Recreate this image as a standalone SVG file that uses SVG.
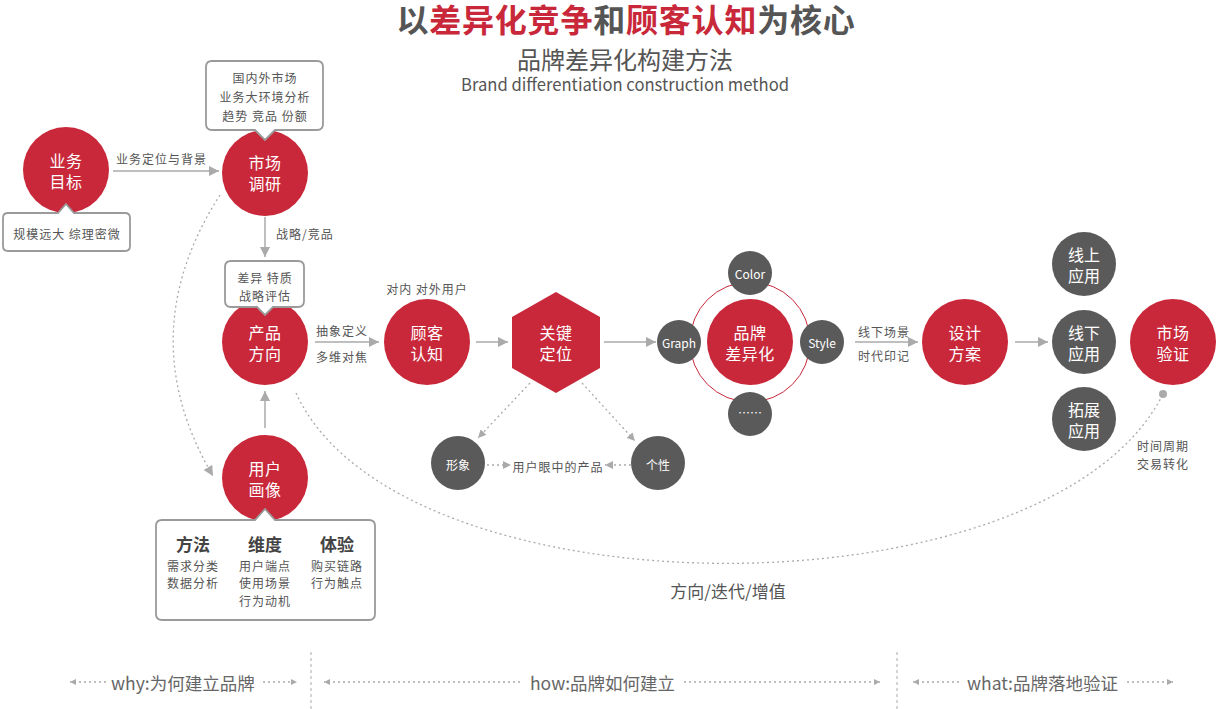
<svg xmlns="http://www.w3.org/2000/svg" width="1217" height="709" viewBox="0 0 1217 709">
<style>
text{font-family:"Noto Sans CJK SC","Noto Sans",sans-serif;}
.red{fill:#c8283a;}
.dark{fill:#5b5a5a;}
.nl{fill:#fff;font-size:16px;letter-spacing:0.5px;text-anchor:middle;dominant-baseline:central;}
.sl{fill:#fff;font-size:12px;text-anchor:middle;dominant-baseline:central;}
.ml{fill:#fff;font-size:16px;text-anchor:middle;dominant-baseline:central;}
.t{fill:#555;font-size:12px;letter-spacing:1px;dominant-baseline:central;}
.tc{fill:#555;font-size:12px;letter-spacing:1px;text-anchor:middle;dominant-baseline:central;}
.box{fill:#fff;stroke:#9a9a9a;stroke-width:1.8;}
.ln{stroke:#aaa;stroke-width:1.5;fill:none;}
.dl{stroke:#aaa;stroke-width:1.3;fill:none;stroke-dasharray:2 3;}
.hd{fill:#444;font-size:17px;font-weight:bold;text-anchor:middle;dominant-baseline:central;}
.bt{fill:#666;font-size:17.5px;dominant-baseline:central;}
</style>
<defs>
<marker id="arr" viewBox="0 0 10 10" refX="10" refY="5" markerWidth="10" markerHeight="10" markerUnits="userSpaceOnUse" orient="auto"><path d="M0,0 L10,5 L0,10 Z" fill="#aaa"/></marker>
<marker id="arrs" viewBox="0 0 10 10" refX="10" refY="5" markerWidth="8" markerHeight="8" markerUnits="userSpaceOnUse" orient="auto"><path d="M0,0 L10,5 L0,10 Z" fill="#aaa"/></marker>
<marker id="arrt" viewBox="0 0 10 10" refX="10" refY="5" markerWidth="6" markerHeight="6" markerUnits="userSpaceOnUse" orient="auto"><path d="M0,0 L10,5 L0,10 Z" fill="#aaa"/></marker>
</defs>

<g id="title">
<text x="626" y="18" font-size="32" font-weight="bold" letter-spacing="0.8" text-anchor="middle" dominant-baseline="central" fill="#555">以<tspan fill="#c8283a">差异化竞争</tspan>和<tspan fill="#c8283a">顾客认知</tspan>为核心</text>
<text x="625" y="58" font-size="24" text-anchor="middle" dominant-baseline="central" fill="#555">品牌差异化构建方法</text>
<text x="625" y="83" font-size="17" text-anchor="middle" dominant-baseline="central" fill="#555" textLength="328" lengthAdjust="spacingAndGlyphs">Brand differentiation construction method</text>
</g>

<g id="connectors">
<line class="ln" x1="113" y1="171" x2="219" y2="171" marker-end="url(#arr)"/>
<line class="ln" x1="265" y1="217" x2="265" y2="257" marker-end="url(#arr)"/>
<line class="ln" x1="265" y1="428" x2="265" y2="391" marker-end="url(#arr)"/>
<line class="ln" x1="315" y1="342" x2="379" y2="342" marker-end="url(#arr)"/>
<line class="ln" x1="476" y1="342" x2="508" y2="342" marker-end="url(#arr)"/>
<line class="ln" x1="604" y1="342" x2="656" y2="342" marker-end="url(#arr)"/>
<line class="ln" x1="855" y1="342" x2="918" y2="342" marker-end="url(#arr)"/>
<line class="ln" x1="1015" y1="342" x2="1048" y2="342" marker-end="url(#arr)"/>
<path class="dl" d="M530,383 L478,438" marker-end="url(#arrs)"/>
<path class="dl" d="M582,383 L635,441" marker-end="url(#arrs)"/>
<path class="dl" d="M487,465 L511,465" marker-end="url(#arrs)"/>
<path class="dl" d="M631,465 L605,465" marker-end="url(#arrs)"/>
<path class="dl" d="M220,195 Q130,335 213,476" marker-end="url(#arr)"/>
<path class="dl" d="M296,393 C400,620 1050,620 1163,394"/>
<circle cx="1163" cy="394" r="4" fill="#aaa"/>
<text class="t" x="116" y="158">业务定位与背景</text>
<text class="t" x="276" y="233">战略/竞品</text>
<text class="t" x="316" y="330">抽象定义</text>
<text class="t" x="316" y="356">多维对焦</text>
<text class="tc" x="427" y="288">对内 对外用户</text>
<text class="tc" x="558" y="466">用户眼中的产品</text>
<text class="t" x="858" y="331">线下场景</text>
<text class="t" x="858" y="355">时代印记</text>
<text class="t" x="1137" y="445">时间周期</text>
<text class="t" x="1137" y="463">交易转化</text>
<text x="728" y="590" font-size="17" fill="#555" text-anchor="middle" dominant-baseline="central">方向/迭代/增值</text>
</g>

<g id="n-yewumubiao">
<circle class="red" cx="66" cy="170" r="43"/>
<text class="nl" x="66" y="160">业务</text>
<text class="nl" x="66" y="181">目标</text>
<path class="box" d="M8,213 H58 L66,204 L74,213 H125 Q130,213 130,218 V246 Q130,251 125,251 H8 Q3,251 3,246 V218 Q3,213 8,213 Z"/>
<text class="tc" x="67" y="233">规模远大 综理密微</text>
</g>

<g id="n-shichangdiaoyan">
<circle class="red" cx="265" cy="173" r="43"/>
<text class="nl" x="265" y="162">市场</text>
<text class="nl" x="265" y="183">调研</text>
<path class="box" d="M212,61 H317 Q323,61 323,67 V124 Q323,130 317,130 H275 L265,140 L255,130 H212 Q206,130 206,124 V67 Q206,61 212,61 Z"/>
<text class="tc" x="265" y="77">国内外市场</text>
<text class="tc" x="265" y="96">业务大环境分析</text>
<text class="tc" x="265" y="115">趋势 竞品 份额</text>
</g>

<g id="n-chanpinfangxiang">
<circle class="red" cx="265" cy="342" r="43"/>
<text class="nl" x="265" y="332">产品</text>
<text class="nl" x="265" y="353">方向</text>
<path class="box" d="M231,261 H298 Q304,261 304,267 V301 Q304,307 298,307 H273 L265,315 L257,307 H231 Q225,307 225,301 V267 Q225,261 231,261 Z"/>
<text class="tc" x="265" y="277">差异 特质</text>
<text class="tc" x="265" y="295">战略评估</text>
</g>

<g id="n-yonghuhuaxiang">
<circle class="red" cx="265" cy="478" r="43"/>
<text class="nl" x="265" y="468">用户</text>
<text class="nl" x="265" y="489">画像</text>
<path class="box" d="M162,520 H255 L265,509 L275,520 H369 Q375,520 375,526 V614 Q375,620 369,620 H162 Q156,620 156,614 V526 Q156,520 162,520 Z"/>
<text class="hd" x="193" y="543">方法</text>
<text class="tc" x="193" y="565">需求分类</text>
<text class="tc" x="193" y="582">数据分析</text>
<text class="hd" x="265" y="543">维度</text>
<text class="tc" x="265" y="565">用户端点</text>
<text class="tc" x="265" y="582">使用场景</text>
<text class="tc" x="265" y="600">行为动机</text>
<text class="hd" x="337" y="543">体验</text>
<text class="tc" x="337" y="565">购买链路</text>
<text class="tc" x="337" y="582">行为触点</text>
</g>

<g id="n-gukerenzhi">
<circle class="red" cx="427" cy="342" r="43"/>
<text class="nl" x="427" y="332">顾客</text>
<text class="nl" x="427" y="353">认知</text>
</g>

<g id="n-guanjiandingwei">
<polygon class="red" points="556,292 600,317 600,368 556,393 512,368 512,317"/>
<text class="nl" x="556" y="332">关键</text>
<text class="nl" x="556" y="353">定位</text>
</g>

<g id="n-xingxiang">
<circle class="dark" cx="458" cy="463" r="27"/>
<text class="sl" x="458" y="464" font-size="13">形象</text>
</g>
<g id="n-gexing">
<circle class="dark" cx="658" cy="463" r="27"/>
<text class="sl" x="658" y="464" font-size="13">个性</text>
</g>

<g id="n-pinpaichayihua">
<circle cx="750" cy="342" r="60" fill="none" stroke="#c8283a" stroke-width="1"/>
<circle class="red" cx="750" cy="342" r="43"/>
<text class="nl" x="750" y="332">品牌</text>
<text class="nl" x="750" y="353">差异化</text>
</g>
<g id="n-color">
<circle class="dark" cx="750" cy="273" r="22"/>
<text class="sl" x="750" y="273">Color</text>
</g>
<g id="n-graph">
<circle class="dark" cx="679" cy="342" r="22"/>
<text class="sl" x="679" y="342">Graph</text>
</g>
<g id="n-style">
<circle class="dark" cx="822" cy="342" r="22"/>
<text class="sl" x="822" y="342">Style</text>
</g>
<g id="n-more">
<circle class="dark" cx="750" cy="414" r="22"/>
<text class="sl" x="750" y="412">……</text>
</g>

<g id="n-shejifangan">
<circle class="red" cx="965" cy="342" r="43"/>
<text class="nl" x="965" y="332">设计</text>
<text class="nl" x="965" y="353">方案</text>
</g>

<g id="n-xianshang">
<circle class="dark" cx="1084" cy="264" r="32"/>
<text class="ml" x="1084" y="254">线上</text>
<text class="ml" x="1084" y="275">应用</text>
</g>
<g id="n-xianxia">
<circle class="dark" cx="1084" cy="342" r="32"/>
<text class="ml" x="1084" y="332">线下</text>
<text class="ml" x="1084" y="353">应用</text>
</g>
<g id="n-tuozhan">
<circle class="dark" cx="1084" cy="419" r="32"/>
<text class="ml" x="1084" y="409">拓展</text>
<text class="ml" x="1084" y="430">应用</text>
</g>

<g id="n-shichangyanzheng">
<circle class="red" cx="1173" cy="342" r="43"/>
<text class="nl" x="1173" y="332">市场</text>
<text class="nl" x="1173" y="353">验证</text>
</g>

<g id="footer">
<line x1="311" y1="652" x2="311" y2="709" stroke="#aaa" stroke-width="1" stroke-dasharray="3 3"/>
<line x1="897" y1="652" x2="897" y2="709" stroke="#aaa" stroke-width="1" stroke-dasharray="3 3"/>
<path class="dl" d="M106,682 L70,682" stroke-width="1" marker-end="url(#arrt)"/>
<text class="bt" x="111" y="682">why:为何建立品牌</text>
<path class="dl" d="M263,682 L297,682" stroke-width="1" marker-end="url(#arrt)"/>
<path class="dl" d="M520,682 L324,682" stroke-width="1" marker-end="url(#arrt)"/>
<text class="bt" x="530" y="682">how:品牌如何建立</text>
<path class="dl" d="M684,682 L880,682" stroke-width="1" marker-end="url(#arrt)"/>
<path class="dl" d="M959,682 L913,682" stroke-width="1" marker-end="url(#arrt)"/>
<text class="bt" x="967" y="682">what:品牌落地验证</text>
<path class="dl" d="M1127,682 L1173,682" stroke-width="1" marker-end="url(#arrt)"/>
</g>
</svg>
